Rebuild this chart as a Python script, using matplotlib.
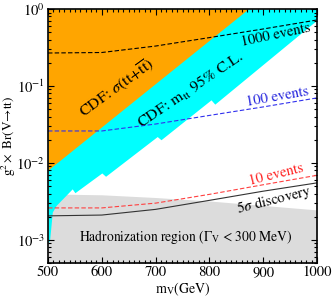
import numpy as np
import matplotlib
matplotlib.use('Agg')
from matplotlib import pyplot as plt
from matplotlib.ticker import MultipleLocator, LogLocator, NullFormatter

plt.rcParams['font.family'] = 'STIXGeneral'
plt.rcParams['mathtext.fontset'] = 'stix'

# region boundaries (m_V in GeV, g^2 x Br)
hadr_m = [500, 600, 700, 800, 900, 1000]
hadr_top = [3.95e-3, 3.85e-3, 3.55e-3, 3.2e-3, 2.8e-3, 2.45e-3]

mtt_m = [500, 503, 508, 515, 545, 550, 600, 607, 703, 710, 803, 810, 1000]
mtt_low = [9e-4, 1e-3, 2.3e-3, 2.8e-3, 4.6e-3, 4.1e-3, 7.4e-3, 6.7e-3,
           2.2e-2, 2.0e-2, 6.6e-2, 5.8e-2, 0.72]

sig_m = [500, 872]
sig_low = [8.1e-3, 1.0]

# event curves
m = [500, 600, 700, 800, 900, 1000]
ev1000 = [0.268, 0.272, 0.33, 0.425, 0.55, 0.72]
ev100 = [0.026, 0.026, 0.032, 0.0414, 0.0534, 0.0699]
ev10 = [2.6e-3, 2.6e-3, 3.0e-3, 3.9e-3, 5.2e-3, 6.9e-3]
disc5 = [2.05e-3, 2.1e-3, 2.49e-3, 3.26e-3, 4.29e-3, 5.5e-3]

fig = plt.figure(figsize=(3.32, 2.98), dpi=100)
ax = fig.add_axes([0.1446, 0.1174, 0.8102, 0.8524])
ax.set_yscale('log')
ax.set_xlim(500, 1000)
ax.set_ylim(5e-4, 1)

ax.fill_between(hadr_m, 1e-5, hadr_top, color='#dcdcdc', lw=0)
ax.fill_between(mtt_m, mtt_low, 1.0, color='#00ffff', lw=0)
ax.fill_between(sig_m, sig_low, 1.0, color='#ffa500', lw=0)

ax.plot(m, ev1000, color='black', ls='--', lw=0.8, dashes=(4, 2))
ax.plot(m, ev100, color='#3030ee', ls='--', lw=0.8, dashes=(4, 2))
ax.plot(m, ev10, color='#ff4040', ls='--', lw=0.8, dashes=(4, 2))
ax.plot(m, disc5, color='#333333', lw=0.8)

fs = 10.5
ax.text(0.257, 0.689, r'CDF: $\sigma$(tt+$\overline{\rm tt}$)', transform=ax.transAxes,
        rotation=36, ha='center', va='center', fontsize=11.5)
ax.text(0.532, 0.681, r'CDF: m$_{\rm tt}$ 95% C.L.', transform=ax.transAxes,
        rotation=34, ha='center', va='center', fontsize=11.5)
ax.text(0.848, 0.898, '1000 events', transform=ax.transAxes,
        rotation=12, ha='center', va='center', fontsize=fs)
ax.text(0.852, 0.654, '100 events', transform=ax.transAxes,
        rotation=10, ha='center', va='center', color='#2020dd', fontsize=fs)
ax.text(0.848, 0.346, '10 events', transform=ax.transAxes,
        rotation=14, ha='center', va='center', color='#ff2020', fontsize=fs)
ax.text(0.84, 0.248, r'5$\sigma$ discovery', transform=ax.transAxes,
        rotation=14, ha='center', va='center', fontsize=fs)
ax.text(0.513, 0.102, r'Hadronization region ($\Gamma_{\rm V}$ < 300 MeV)',
        transform=ax.transAxes, ha='center', va='center', fontsize=9.8)

ax.set_xlabel(r'm$_{\rm V}$(GeV)', fontsize=10, labelpad=1)
ax.set_ylabel(r'g$^2\times$ Br(V→tt)', fontsize=9.5)
ax.yaxis.set_label_coords(-0.11, 0.5)

ax.xaxis.set_major_locator(MultipleLocator(100))
ax.xaxis.set_minor_locator(MultipleLocator(10))
ax.yaxis.set_major_locator(LogLocator(base=10, numticks=10))
ax.yaxis.set_minor_locator(LogLocator(base=10, subs=np.arange(2, 10), numticks=10))
ax.yaxis.set_minor_formatter(NullFormatter())
ax.tick_params(which='both', direction='in', top=True, right=True, labelsize=10.5, width=0.8)
ax.tick_params(which='major', length=4)
ax.tick_params(which='minor', length=2.2)
ax.tick_params(axis='x', pad=2)
ax.tick_params(axis='y', pad=2)
for s in ax.spines.values():
    s.set_linewidth(1.2)
    s.set_zorder(5)

fig.savefig('out.png', dpi=100)
